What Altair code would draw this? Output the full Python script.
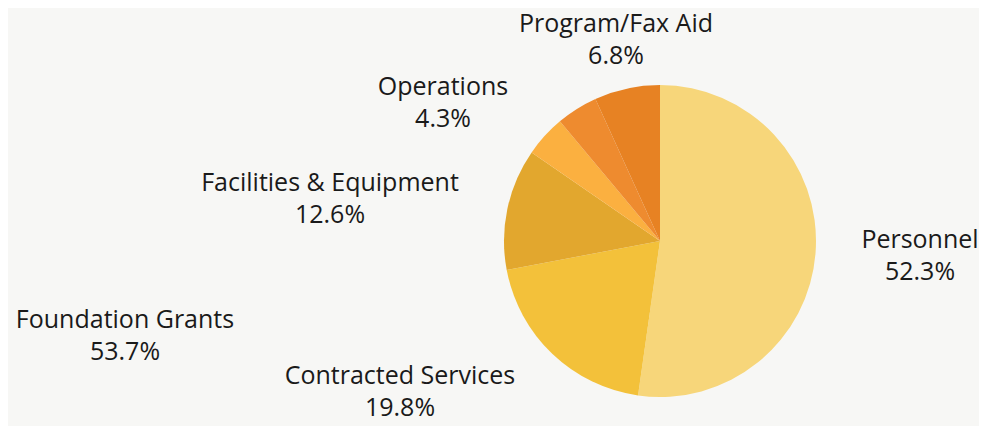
import altair as alt
import pandas as pd

categories = ["Personnel", "Contracted Services", "Facilities & Equipment",
              "Foundation Grants", "Operations", "Program/Fax Aid"]
values = [52.3, 19.8, 12.6, 4.3, 4.3, 6.8]
pct_labels = ["52.3%", "19.8%", "12.6%", "53.7%", "4.3%", "6.8%"]
colors = ["#F7D67A", "#F3C13A", "#E2A72E", "#FBB040", "#EE8B2F", "#E78223"]

# label anchor points (view pixels) as placed in the reference
label_x = [912, 392, 322, 117, 435, 608]
label_y = [232, 368, 175, 312, 79, 16]

df = pd.DataFrame({
    "category": categories,
    "value": values,
    "order": list(range(len(categories))),
    "label": [f"{c}\n{p}" for c, p in zip(categories, pct_labels)],
    "lx": label_x,
    "ly": label_y,
})

W, H = 971, 418
CX, CY, R = 652, 233, 156

pie = alt.Chart(df).mark_arc(outerRadius=R, strokeWidth=0).encode(
    theta=alt.Theta("value:Q", stack=True),
    order=alt.Order("order:Q"),
    color=alt.Color("category:N", scale=alt.Scale(domain=categories, range=colors), legend=None),
    x=alt.value(CX),
    y=alt.value(CY),
)

text = alt.Chart(df).mark_text(
    font="Open Sans", fontSize=25, color="#1a1a1a", lineBreak="\n",
    lineHeight=32, align="center", baseline="middle",
).encode(
    x=alt.X("lx:Q", scale=None),
    y=alt.Y("ly:Q", scale=None),
    text="label:N",
)

chart = alt.layer(pie, text).properties(
    width=W, height=H, padding=0, background="#F7F7F5",
    autosize=alt.AutoSizeParams(type="none"),
).configure_view(stroke=None)

chart.save("out.html", embed_options={"renderer": "svg", "actions": False})
